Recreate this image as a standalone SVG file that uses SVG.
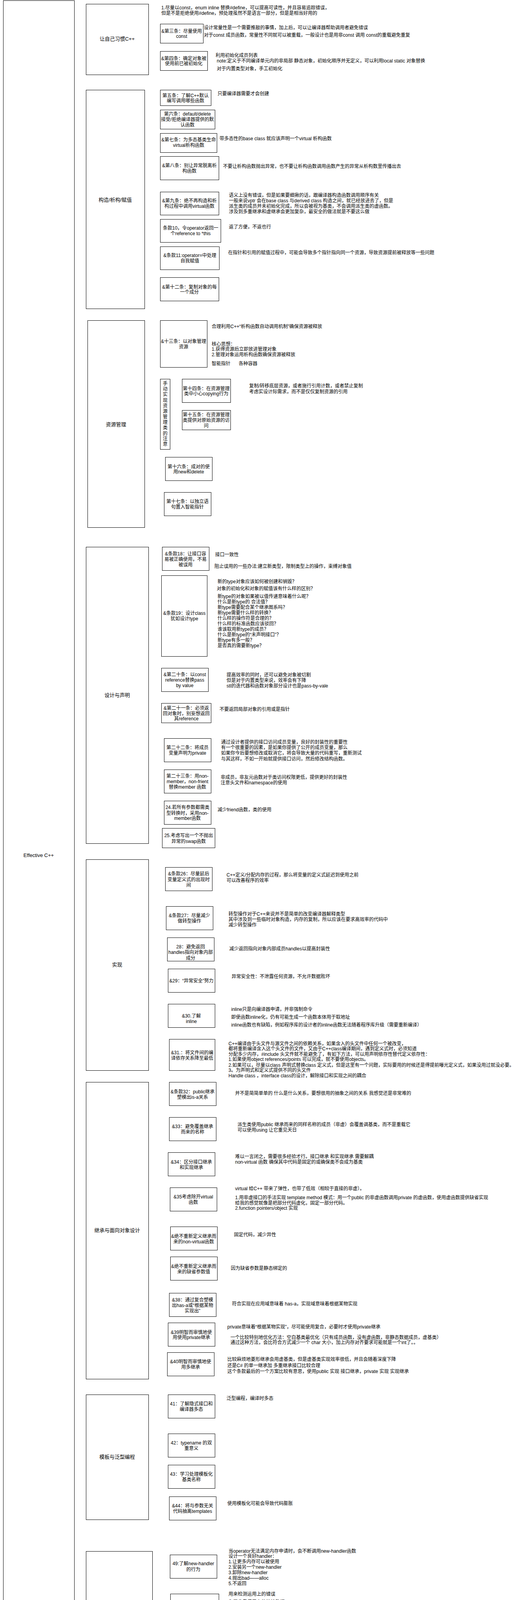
<svg xmlns="http://www.w3.org/2000/svg" width="1334" height="4381" viewBox="0 0 1334 4381">
<style>
.bx{fill:none;stroke:#000;stroke-width:1}
text{font-family:"Liberation Sans","Noto Sans CJK SC",sans-serif;font-size:12px;fill:#000}
.c{text-anchor:middle}
.sec{font-size:13px}
</style>
<rect x="0" y="0" width="1334" height="4381" fill="#fff"/>
<g id="connectors"></g>

<g id="root"><rect class="bx" x="8.5" y="1.5" width="182" height="4378"/><text class="c sec" x="99" y="2194">Effective C++</text></g>

<g id="sec1"><rect class="bx" x="220.5" y="10.5" width="160" height="181"/><text class="c sec" x="300" y="104">让自己习惯C++</text></g>
<g id="sec2"><rect class="bx" x="220.5" y="230.5" width="150" height="560"/><text class="c sec" x="295" y="516">构造/析构/赋值</text></g>
<g id="sec3"><rect class="bx" x="224.5" y="820.5" width="146" height="530"/><text class="c sec" x="297" y="1091">资源管理</text></g>
<g id="sec4"><rect class="bx" x="220.5" y="1400.5" width="160" height="759"/><text class="c sec" x="300" y="1784">设计与声明</text></g>
<g id="sec5"><rect class="bx" x="220.5" y="2200.5" width="160" height="540"/><text class="c sec" x="300" y="2474">实现</text></g>
<g id="sec6"><rect class="bx" x="220.5" y="2770.5" width="160" height="760"/><text class="c sec" x="300" y="3154">继承与面向对象设计</text></g>
<g id="sec7"><rect class="bx" x="220.5" y="3570.5" width="160" height="320"/><text class="c sec" x="300" y="3734">模板与泛型编程</text></g>
<g id="sec8"><rect class="bx" x="220.5" y="3971.5" width="170" height="408"/><text class="c sec" x="305" y="4172">定制new和</text><text class="c sec" x="305" y="4187">delete</text></g>

<!-- section 1 -->
<g id="leaf1"><text x="413" y="24">1.尽量以const，enum inline 替换#define，可以提高可读性，并且容易追踪错误，</text><text x="413" y="38">但是不是拒绝使用#define，预处理虽然不是语言一部分，但是是相当好用的</text></g>
<g id="n3"><rect class="bx" x="410.5" y="61.5" width="110" height="49"/><text class="c" x="465" y="84">&amp;第三条：尽量使用</text><text class="c" x="465" y="97">const</text></g>
<g id="leaf3"><text x="522" y="75">设计常量性是一个需要推敲的事情，加上后，可以让编译器帮助调用者避免错误</text><text x="522" y="94">对于const 成员函数，常量性不同就可以被重载，一般设计也是用非const 调用 const的重载避免重复</text></g>
<g id="n4"><rect class="bx" x="410.5" y="131.5" width="121" height="49"/><text class="c" x="470.5" y="154">&amp;第四条：确定对象被</text><text class="c" x="470.5" y="167">使用前已被初始化</text></g>
<g id="leaf4"><text x="552" y="146">利用初始化成员列表</text><text x="555" y="160">note:定义于不同编译单元内的非局部 静态对象，初始化顺序并无定义，可以利用local static 对象替换</text><text x="555" y="180">对于内置类型对象，手工初始化</text></g>

<!-- section 2 -->
<g id="n5"><rect class="bx" x="410.5" y="230.5" width="130" height="40"/><text class="c" x="475" y="249">第五条：了解C++默认</text><text class="c" x="475" y="262">编写调用哪些函数</text></g>
<g id="leaf5"><text x="557" y="244">只要编译器需要才会创建</text></g>
<g id="n6"><rect class="bx" x="410.5" y="281.5" width="140" height="49"/><text class="c" x="480" y="296">第六条：default/delete</text><text class="c" x="480" y="310">接受/拒绝编译器提供的默</text><text class="c" x="480" y="324">认函数</text></g>
<g id="n7"><rect class="bx" x="410.5" y="341.5" width="145" height="49"/><text class="c" x="483" y="362">&amp;第七条：为多态基类生命</text><text class="c" x="483" y="376">virtual析构函数</text></g>
<g id="leaf7"><text x="562" y="359">带多态性的base class 就应该声明一个virtual 析构函数</text></g>
<g id="n8"><rect class="bx" x="410.5" y="400.5" width="150" height="60"/><text class="c" x="485" y="428">&amp;第八条：别让异常脱离析</text><text class="c" x="485" y="442">构函数</text></g>
<g id="leaf8"><text x="571" y="430">不要让析构函数抛出异常，也不要让析构函数调用函数产生的异常从析构数里传播出去</text></g>
<g id="n9"><rect class="bx" x="410.5" y="491.5" width="150" height="59"/><text class="c" x="485" y="518">&amp;第九条：绝不再构造和析</text><text class="c" x="485" y="532">构过程中调用virtual函数</text></g>
<g id="leaf9"><text x="586" y="504">语义上没有错误，但是如果要细揪的话，跟编译器构造函数调用顺序有关</text><text x="586" y="518">一般来说vptr 会在base class 与derived class 构造之间，就已经放进去了，但是</text><text x="586" y="532">派生类的成员并未初始化完成，所以会被视为基类，不会调用派生类的虚函数。</text><text x="586" y="546">涉及到多重继承和虚继承会更加复杂，最安全的做法就是不要这么做</text></g>
<g id="n10"><rect class="bx" x="410.5" y="561.5" width="155" height="59"/><text class="c" x="488" y="588">条款10，令operator返回一</text><text class="c" x="488" y="602">个reference to *this</text></g>
<g id="leaf10"><text x="586" y="585">返了方便，不返也行</text></g>
<g id="n11"><rect class="bx" x="410.5" y="631.5" width="151" height="59"/><text class="c" x="486" y="658">&amp;条款11:operator=中处理</text><text class="c" x="486" y="672">自我赋值</text></g>
<g id="leaf11"><text x="584" y="651">在指针和引用的赋值过程中，可能会导致多个指针指向同一个资源，导致资源提前被释放等一些问题</text></g>
<g id="n12"><rect class="bx" x="410.5" y="710.5" width="150" height="60"/><text class="c" x="485" y="739">&amp;第十二条：复制对象的每</text><text class="c" x="485" y="752">一个成分</text></g>

<!-- section 3 -->
<g id="n13"><rect class="bx" x="410.5" y="820.5" width="120" height="120"/><text class="c" x="470" y="878">&amp;十三条：以对象管理</text><text class="c" x="470" y="892">资源</text></g>
<g id="leaf13"><text x="542" y="840">合理利用C++“析构函数自动调用机制”确保资源被释放</text><text x="542" y="885">核心思想：</text><text x="542" y="898">1.获得资源后立即放进管理对象</text><text x="542" y="912">2.管理对象运用析构函数确保资源被释放</text><text x="542" y="935">智能指针</text><text x="611" y="935">各种容器</text></g>
<g id="nv"><rect class="bx" x="410.5" y="970.5" width="25" height="180"/>
<text class="c" x="423" y="986">手</text><text class="c" x="423" y="1000">动</text><text class="c" x="423" y="1014">实</text><text class="c" x="423" y="1029">现</text><text class="c" x="423" y="1043">资</text><text class="c" x="423" y="1057">源</text><text class="c" x="423" y="1071">管</text><text class="c" x="423" y="1085">理</text><text class="c" x="423" y="1099">类</text><text class="c" x="423" y="1114">的</text><text class="c" x="423" y="1127">注</text><text class="c" x="423" y="1141">意</text></g>
<g id="n14"><rect class="bx" x="466.5" y="970.5" width="124" height="60"/><text class="c" x="528" y="999">第十四条：在资源管理</text><text class="c" x="528" y="1012">类中小心copying行为</text></g>
<g id="leaf14"><text x="638" y="992">复制/转移底层资源，或者施行引用计数，或者禁止复制</text><text x="638" y="1007">考虑实设计际需求，而不是仅仅复制资源的引用</text></g>
<g id="n15"><rect class="bx" x="466.5" y="1050.5" width="124" height="50"/><text class="c" x="528" y="1066">第十五条：在资源管理</text><text class="c" x="528" y="1080">类提供对原始资源的访</text><text class="c" x="528" y="1094">问</text></g>
<g id="n16"><rect class="bx" x="423.5" y="1170.5" width="120" height="60"/><text class="c" x="483" y="1199">第十六条：成对的使</text><text class="c" x="483" y="1212">用new和delete</text></g>
<g id="n17"><rect class="bx" x="420.5" y="1260.5" width="120" height="60"/><text class="c" x="480" y="1288">第十七条：以独立语</text><text class="c" x="480" y="1302">句置入智能指针</text></g>

<!-- section 4 -->
<g id="n18"><rect class="bx" x="415.5" y="1400.5" width="120" height="60"/><text class="c" x="475" y="1422">&amp;条款18：让接口容</text><text class="c" x="475" y="1436">易被正确使用，不易</text><text class="c" x="475" y="1450">被误用</text></g>
<g id="leaf18"><text x="551" y="1424">接口一致性</text><text x="549" y="1454">阻止误用的一些办法:建立新类型，限制类型上的操作，束缚对象值</text></g>
<g id="n19"><rect class="bx" x="413.5" y="1473.5" width="117" height="207"/><text class="c" x="472" y="1574">&amp;条款19：设计class</text><text class="c" x="472" y="1588">犹如设计type</text></g>
<g id="leaf19"><text x="557" y="1493">新的type对象应该如何被创建和销毁？</text><text x="555" y="1511">对象的初始化和对象的赋值该有什么样的区别？</text><text x="557" y="1531">新type的对象如果被以值传递意味着什么呢？</text><text x="557" y="1545">什么是新type的 合法值？</text><text x="557" y="1559">新type需要配合某个继承图系吗？</text><text x="557" y="1573">新type需要什么样的转换？</text><text x="557" y="1587">什么样的操作符是合理的？</text><text x="557" y="1601">什么样的标准函数应该驳回？</text><text x="557" y="1615">谁该取用新type的成员？</text><text x="557" y="1629">什么是新type的“未声明接口”？</text><text x="557" y="1643">新type有多一般？</text><text x="557" y="1657">是否真的需要新type？</text></g>
<g id="n20"><rect class="bx" x="413.5" y="1710.5" width="120" height="60"/><text class="c" x="473" y="1731">&amp;第二十条：以const</text><text class="c" x="473" y="1745">reference替换pass</text><text class="c" x="473" y="1759">by value</text></g>
<g id="leaf20"><text x="580" y="1732">提高效率的同时，还可以避免对象被切割</text><text x="580" y="1746">但是对于内置类型来说，效率会有下降</text><text x="580" y="1760">stl的迭代器和函数对象部分设计也是pass-by-vale</text></g>
<g id="n21"><rect class="bx" x="413.5" y="1800.5" width="127" height="50"/><text class="c" x="477" y="1817">&amp;第二十一条：必须返</text><text class="c" x="477" y="1831">回对象时，别妄想返回</text><text class="c" x="477" y="1844">其reference</text></g>
<g id="leaf21"><text x="562" y="1820">不要返回局部对象的引用或是指针</text></g>
<g id="n22"><rect class="bx" x="420.5" y="1890.5" width="120" height="60"/><text class="c" x="480" y="1918">第二十二条：将成员</text><text class="c" x="480" y="1932">变量声明为private</text></g>
<g id="leaf22"><text x="566" y="1904">通过设计者提供的接口访问成员变量，良好的封装性的重要性</text><text x="566" y="1918">有一个很重要的因素，是如果你提供了公开的成员变量，那么</text><text x="566" y="1932">如果你今后要想修改或取消它，将会导致大量的代码重写，重新测试</text><text x="566" y="1947">与其这样，不如一开始就提供接口访问，然后修改结构函数。</text></g>
<g id="n23"><rect class="bx" x="420.5" y="1970.5" width="120" height="60"/><text class="c" x="480" y="1991">第二十三条：用non-</text><text class="c" x="480" y="2005">member，non-frient</text><text class="c" x="480" y="2019">替换member 函数</text></g>
<g id="leaf23"><text x="565" y="1994">非成员，非友元函数对于类访问权限更低，提供更好的封装性</text><text x="565" y="2008">注意头文件和namespace的使用</text></g>
<g id="n24"><rect class="bx" x="420.5" y="2050.5" width="120" height="60"/><text class="c" x="480" y="2071">24.若所有参数都需类</text><text class="c" x="480" y="2086">型转换时，采用non-</text><text class="c" x="480" y="2099">member函数</text></g>
<g id="leaf24"><text x="557" y="2077">减少friend函数，类的使用</text></g>
<g id="n25"><rect class="bx" x="415.5" y="2120.5" width="135" height="50"/><text class="c" x="483" y="2143">25.考虑写出一个不抛出</text><text class="c" x="483" y="2158">异常的swap函数</text></g>

<!-- section 5 -->
<g id="n26"><rect class="bx" x="423.5" y="2220.5" width="120" height="60"/><text class="c" x="483" y="2241">&amp;条款26：尽量延后</text><text class="c" x="483" y="2256">变量定义式的出现时</text><text class="c" x="483" y="2270">间</text></g>
<g id="leaf26"><text x="580" y="2244">C++定义/分配内存的过程，那么将变量的定义式延迟到使用之前</text><text x="580" y="2258">可以改善程序的效率</text></g>
<g id="n27"><rect class="bx" x="425.5" y="2320.5" width="120" height="60"/><text class="c" x="485" y="2348">&amp;条款27：尽量减少</text><text class="c" x="485" y="2362">做转型操作</text></g>
<g id="leaf27"><text x="585" y="2344">转型操作对于C++来说并不是简单的改变编译器解释类型</text><text x="585" y="2358">其中涉及到一些临时对象构造，内存的复制，所以应该在要求高效率的代码中</text><text x="585" y="2372">减少转型操作</text></g>
<g id="n28"><rect class="bx" x="428.5" y="2400.5" width="120" height="60"/><text class="c" x="488" y="2428">28：避免返回</text><text class="c" x="488" y="2442">handles指向对象内部</text><text class="c" x="488" y="2457">成分</text></g>
<g id="leaf28"><text x="587" y="2433">减少返回指向对象内部成员handles以提高封装性</text></g>
<g id="n29"><rect class="bx" x="430.5" y="2480.5" width="120" height="60"/><text class="c" x="490" y="2515">&amp;29：“异常安全”努力</text></g>
<g id="leaf29"><text x="593" y="2504">异常安全性：不泄露任何资源，不允许数据败坏</text></g>
<g id="n30"><rect class="bx" x="430.5" y="2570.5" width="120" height="60"/><text class="c" x="490" y="2605">&amp;30.了解</text><text class="c" x="490" y="2619">inline</text></g>
<g id="leaf30"><text x="592" y="2588">inline只是向编译器申请，并非强制命令</text><text x="592" y="2608">即使函数inline化，仍有可能生成一个函数本体用于取地址</text><text x="592" y="2628">inline函数也有缺陷，例如程序库的设计者的inline函数无法随着程序库升级（需要重新编译）</text></g>
<g id="n31"><rect class="bx" x="433.5" y="2660.5" width="117" height="80"/><text class="c" x="492" y="2699">&amp;31.：将文件间的编</text><text class="c" x="492" y="2713">译依存关系降至最低</text></g>
<g id="leaf31"><text x="585" y="2676">C++编译由于头文件与源文件之间的依赖关系，如果含入的头文件中任何一个被改变，</text><text x="585" y="2689">都将重新编译含入这个头文件的文件，又由于C++class编译期间，遇到定义式时，必须知道</text><text x="585" y="2703">分配多少内存，#include 头文件就不能避免了，有如下方法，可以用声明依存性替代定义依存性：</text><text x="585" y="2716">1.如果使用object references/points 可以完成，就不要使用objects。</text><text x="585" y="2731">2.如果可以，尽量以class 声明式替换class 定义式，但是这里有一个问题，实际要用的时候还是得提前曝光定义式，如果没用过就没必要。</text><text x="585" y="2744">3。为声明式和定义式提供不同的头文件</text><text x="585" y="2758">Handle class ，interface class的设计，解除接口和实现之间的耦合</text></g>

<!-- section 6 -->
<g id="n32"><rect class="bx" x="433.5" y="2770.5" width="120" height="60"/><text class="c" x="493" y="2799">&amp;条款32：public继承</text><text class="c" x="493" y="2813">塑模出is-a关系</text></g>
<g id="leaf32"><text x="602" y="2803">并不是简简单单的 什么是什么关系，要想很用的抽象之间的关系 我感觉还是非常难的</text></g>
<g id="n33"><rect class="bx" x="433.5" y="2860.5" width="120" height="60"/><text class="c" x="493" y="2888">&amp;33：避免覆盖继承</text><text class="c" x="493" y="2902">而来的名称</text></g>
<g id="leaf33"><text x="608" y="2883">派生类使用public 继承而来的同样名称的成员（非虚）会覆盖调基类，而不是重载它</text><text x="608" y="2897">可以使用using 让它重见天日</text></g>
<g id="n34"><rect class="bx" x="430.5" y="2950.5" width="120" height="60"/><text class="c" x="490" y="2979">&amp;34：区分接口继承</text><text class="c" x="490" y="2993">和实现继承</text></g>
<g id="leaf34"><text x="602" y="2965">难以一言闭之，需要很多经验才行。接口继承 和实现继承 需要解耦</text><text x="602" y="2979">non-virtual 函数 确保其中代码是固定的或确保类不会成为基类</text></g>
<g id="n35"><rect class="bx" x="435.5" y="3040.5" width="120" height="60"/><text class="c" x="495" y="3068">&amp;35考虑除开virtual</text><text class="c" x="495" y="3082">函数</text></g>
<g id="leaf35"><text x="602" y="3047">virtual 给C++ 带来了弹性，也带了低效（相较于直接的非虚）。</text><text x="602" y="3070">1.用非虚接口的手法实现 template method 模式：用一个public 的非虚函数调用private 的虚函数，使用虚函数提供缺省实现</text><text x="602" y="3084">给我的感觉就像是把部分代码虚化，固定一部分代码。</text><text x="602" y="3097">2.function pointers/object 实现</text></g>
<g id="n36"><rect class="bx" x="436.5" y="3140.5" width="120" height="60"/><text class="c" x="496" y="3169">&amp;绝不重新定义继承而</text><text class="c" x="496" y="3183">来的non-virtual函数</text></g>
<g id="leaf36"><text x="599" y="3165">固定代码，减少异性</text></g>
<g id="n37"><rect class="bx" x="436.5" y="3217.5" width="120" height="60"/><text class="c" x="496" y="3246">&amp;绝不重新定义继承而</text><text class="c" x="496" y="3260">来的缺省参数值</text></g>
<g id="leaf37"><text x="591" y="3251">因为缺省参数是静态绑定的</text></g>
<g id="n38"><rect class="bx" x="433.5" y="3310.5" width="120" height="60"/><text class="c" x="493" y="3332">&amp;38：通过复合塑模</text><text class="c" x="493" y="3346">出has-a或“根据某物</text><text class="c" x="493" y="3360">实现出”</text></g>
<g id="leaf38"><text x="594" y="3342">符合实现在应用域意味着 has-a，实现域意味着根据某物实现</text></g>
<g id="n39"><rect class="bx" x="430.5" y="3386.5" width="120" height="60"/><text class="c" x="490" y="3415">&amp;39明智而审慎地使</text><text class="c" x="490" y="3428">用使用private继承</text></g>
<g id="leaf39"><text x="582" y="3401">private意味着“根据某物实现”，尽可能使用复合，必要时才使用private继承</text><text x="590" y="3428">一个比较特别地优化方法：空白基类最优化（只有成员函数，没有虚函数，非静态数据成员，虚基类）</text><text x="590" y="3441">通过这种方法，会比符合方式减少一个 char 大小，加上内存对齐要求可能就是一个int了。。</text></g>
<g id="n40"><rect class="bx" x="428.5" y="3462.5" width="120" height="60"/><text class="c" x="488" y="3490">&amp;40明智而审慎地使</text><text class="c" x="488" y="3504">用多继承</text></g>
<g id="leaf40"><text x="582" y="3484">比较麻烦地菱形继承会用虚基类，但是虚基类实现效率很低，并且会随着深度下降</text><text x="582" y="3500">还是C# 的单一继承加 多重继承接口比较合理</text><text x="582" y="3515">这个条款最后的一个方案比较有意思，使用public 实现 接口继承，private 实现 实现继承</text></g>

<!-- section 7 -->
<g id="n41"><rect class="bx" x="430.5" y="3570.5" width="120" height="60"/><text class="c" x="490" y="3598">41：了解隐式接口和</text><text class="c" x="490" y="3612">编译器多态</text></g>
<g id="leaf41"><text x="580" y="3584">泛型编程，编译时多态</text></g>
<g id="n42"><rect class="bx" x="430.5" y="3670.5" width="120" height="60"/><text class="c" x="490" y="3698">42：typename 的双</text><text class="c" x="490" y="3712">重意义</text></g>
<g id="n43"><rect class="bx" x="430.5" y="3750.5" width="120" height="60"/><text class="c" x="490" y="3778">43：学习处理模板化</text><text class="c" x="490" y="3792">基类名称</text></g>
<g id="n44"><rect class="bx" x="433.5" y="3831.5" width="120" height="60"/><text class="c" x="493" y="3859">&amp;44：将与参数无关</text><text class="c" x="493" y="3873">代码抽离templates</text></g>
<g id="leaf44"><text x="582" y="3853">使用模板化可能会导致代码膨胀</text></g>

<!-- section 8 -->
<g id="n49"><rect class="bx" x="435.5" y="3980.5" width="120" height="60"/><text class="c" x="495" y="4007">49:了解new-handler</text><text class="c" x="495" y="4022">的行为</text></g>
<g id="leaf49"><text x="585" y="3975">当operator无法满足内存申请时，会不断调用new-handler函数</text><text x="585" y="3988">设计一个良好handler：</text><text x="585" y="4002">1.让更多内存可以被使用</text><text x="585" y="4016">2.安装另一个new-handler</text><text x="585" y="4030">3.卸除new-handler</text><text x="585" y="4044">4.抛出bad——alloc</text><text x="585" y="4058">5.不返回</text></g>
<g id="n50"><rect class="bx" x="436.5" y="4080.5" width="124" height="80"/><text class="c" x="498" y="4118">&amp;50：了解new和</text><text class="c" x="498" y="4132">delete的合理替换时机</text></g>
<g id="leaf50"><text x="585" y="4085">用来检测运用上的错误</text><text x="585" y="4105">为了收集使用上的统计数据</text><text x="585" y="4125">强化性能，增加分配和归还的速度，碎片化的问题</text><text x="585" y="4138">为了降低缺省内存管理器带来的空间额外开销</text><text x="585" y="4153">为了弥补缺省分配器中的非最佳齐位</text><text x="585" y="4166">为了将相关对象成簇集中</text><text x="585" y="4181">为了获得非传统的行为</text></g>
<g id="n51"><rect class="bx" x="438.5" y="4210.5" width="120" height="60"/><text class="c" x="498" y="4238">&amp;51：编写new和</text><text class="c" x="498" y="4252">delete时需要固守常</text><text class="c" x="498" y="4266">规</text></g>
<g id="leaf51"><text x="607" y="4240">new 应该内含一个无穷循环，尝试分配内存，如果无法满足就new-handler</text><text x="607" y="4254">也应该能够处理0bytes 的申请。</text><text x="607" y="4268">delete应该在收到null时不做任何事，class专属版本则还应该处理</text><text x="607" y="4282">“比正确大小更大的错误申请”</text></g>
<g id="n52"><rect class="bx" x="438.5" y="4300.5" width="120" height="60"/><text class="c" x="498" y="4321">&amp;52：写了placement</text><text class="c" x="498" y="4335" textLength="116" lengthAdjust="spacingAndGlyphs">new也要写placement</text><text class="c" x="498" y="4349">delete</text></g>
<g id="leaf52"><text x="597" y="4314">new为两个操作，第一个时分配内存，第二个是调用构造函数</text><text x="597" y="4328">如果第一个成功，而第二个过程抛出异常，理应释放掉分配好的内存</text><text x="597" y="4342">那么 new 和delete 就应该对应</text></g>
</svg>
